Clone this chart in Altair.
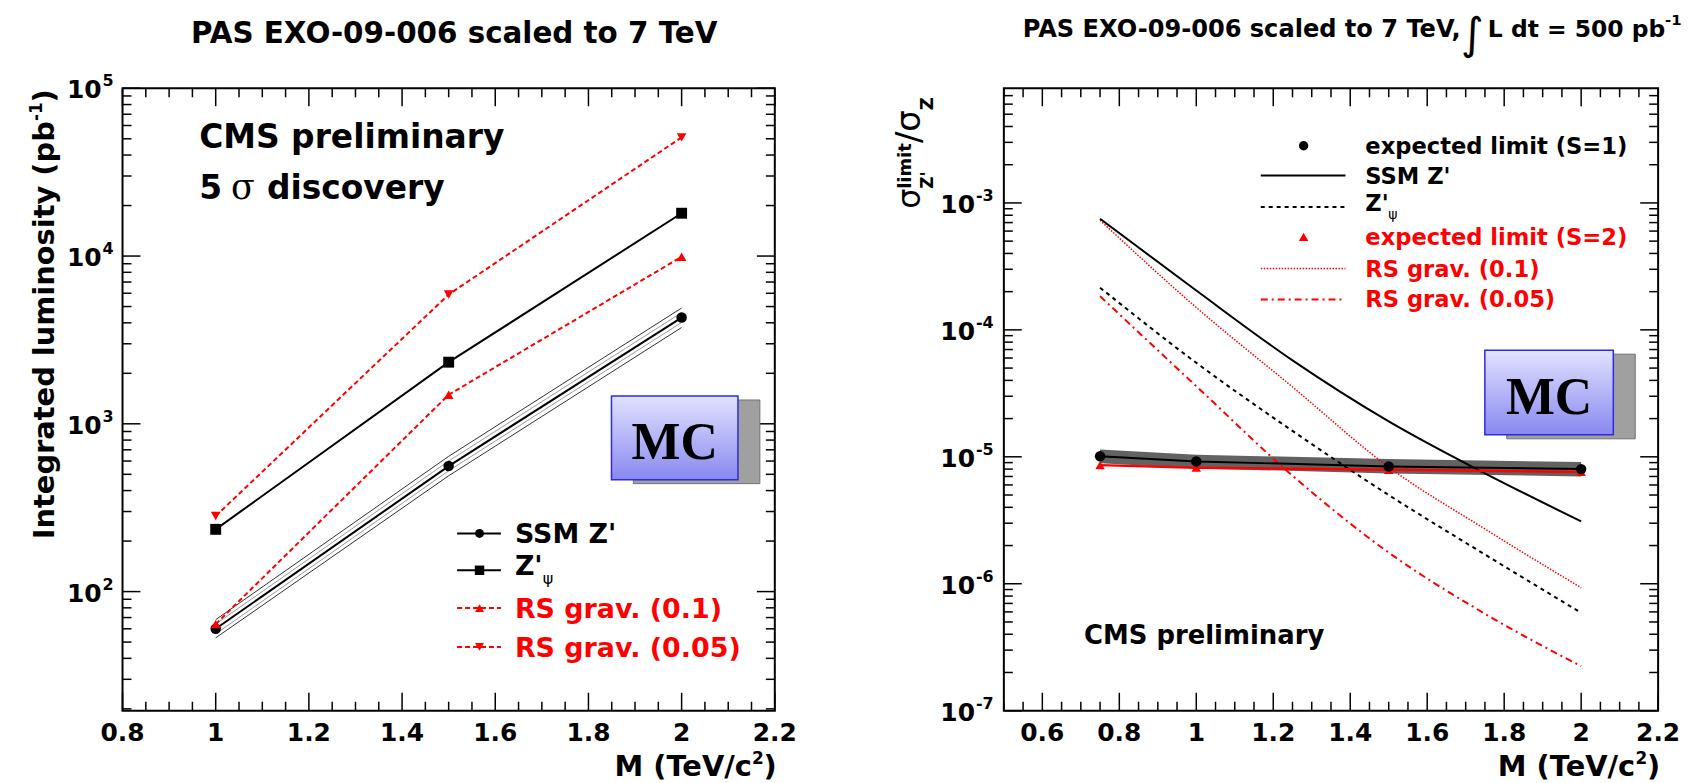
import altair as alt
import pandas as pd

FONT = "DejaVu Sans"
SERIF = "Liberation Serif"
RED = "#ff0000"

# ---------------- left panel: 5 sigma discovery luminosity ----------------
lum_mass = [1.0, 1.5, 2.0]
lum_ssm = [60, 560, 4300]
lum_ssm_hi = [68, 640, 4900]
lum_ssm_lo = [53, 490, 3750]
lum_ssm_hi2 = [64, 600, 4600]
lum_ssm_lo2 = [56, 525, 4020]
lum_zpsi = [235, 2330, 18000]
lum_rs01 = [64, 1490, 9900]
lum_rs005 = [282, 5900, 51000]

# ---------------- right panel: cross-section ratio limits ----------------
lim_mass = [0.75, 1.0, 1.5, 2.0]
lim_s1 = [1.01e-5, 9.2e-6, 8.4e-6, 8.0e-6]
lim_s1_hi = [1.14e-5, 1.04e-5, 9.6e-6, 9.1e-6]
lim_s1_lo = [8.9e-6, 8.1e-6, 7.4e-6, 7.0e-6]
lim_s2 = [8.6e-6, 8.2e-6, 7.9e-6, 7.6e-6]
th_mass = [0.75, 1.0, 1.25, 1.5, 1.75, 2.0]
th_ssm = [7.5e-4, 2.04e-4, 5.75e-5, 1.9e-5, 7.4e-6, 3.1e-6]
th_zpsi = [2.15e-4, 5.5e-5, 1.6e-5, 5.0e-6, 1.7e-6, 5.9e-7]
th_rs01 = [7.3e-4, 1.5e-4, 3.55e-5, 8.3e-6, 2.7e-6, 9.3e-7]
th_rs005 = [1.84e-4, 3.6e-5, 7.1e-6, 1.76e-6, 5.8e-7, 2.24e-7]

# ---------------- ticks and labels ----------------
L_XMAJ = [0.8, 1.0, 1.2, 1.4, 1.6, 1.8, 2.0, 2.2]
L_XLAB = ["0.8", "1", "1.2", "1.4", "1.6", "1.8", "2", "2.2"]
L_YMAJ = [1e2, 1e3, 1e4, 1e5]
L_YEXP = ["2", "3", "4", "5"]
R_XMAJ = [0.6, 0.8, 1.0, 1.2, 1.4, 1.6, 1.8, 2.0, 2.2]
R_XLAB = ["0.6", "0.8", "1", "1.2", "1.4", "1.6", "1.8", "2", "2.2"]
R_YMAJ = [1e-7, 1e-6, 1e-5, 1e-4, 1e-3]
R_YEXP = ["-7", "-6", "-5", "-4", "-3"]


def minor_lin(lo, hi, step, majors):
    n = int(round((hi - lo) / step))
    vals = [round(lo + i * step, 4) for i in range(n + 1)]
    return [v for v in vals if all(abs(v - m) > 1e-6 for m in majors)]


def minor_log(lo, hi):
    out = []
    for e in range(-8, 6):
        for m in range(2, 10):
            v = m * 10.0 ** e
            if lo < v < hi * 0.999:
                out.append(v)
    return out


ONE = pd.DataFrame({"k": [0]})
H = 625
W1, W2 = 655, 657


def T(s, x, y, size, color="black", weight="bold", align="left",
      baseline="alphabetic", angle=None, font=FONT):
    kw = dict(text=s, font=font, fontSize=size, color=color, align=align,
              baseline=baseline, fontWeight=weight)
    if angle is not None:
        kw["angle"] = angle
    return alt.Chart(ONE).mark_text(**kw).encode(x=alt.value(x), y=alt.value(y))


def seg(x1, x2, y, color, width=2, dash=None):
    kw = dict(color=color, strokeWidth=width)
    if dash:
        kw["strokeDash"] = dash
    return alt.Chart(ONE).mark_rule(**kw).encode(
        x=alt.value(x1), x2=alt.value(x2), y=alt.value(y))


def mk(x, y, shape, color, size):
    return alt.Chart(ONE).mark_point(shape=shape, filled=True, size=size,
                                     color=color, opacity=1).encode(
        x=alt.value(x), y=alt.value(y))


def frame_layers(W, xs, ys, xmaj, xmin, ymaj, ymin, xlab, yexp, x10):
    out = []
    for vals, ln in ((xmaj, 18), (xmin, 9)):
        d = pd.DataFrame({"v": vals})
        for y0, y1 in ((H, H - ln), (0, ln)):
            out.append(alt.Chart(d).mark_rule(color="black", strokeWidth=1.5).encode(
                x=alt.X("v:Q", scale=xs, axis=None),
                y=alt.value(y0), y2=alt.value(y1)))
    for vals, ln in ((ymaj, 18), (ymin, 9)):
        d = pd.DataFrame({"v": vals})
        for x0, x1 in ((0, ln), (W, W - ln)):
            out.append(alt.Chart(d).mark_rule(color="black", strokeWidth=1.5).encode(
                y=alt.Y("v:Q", scale=ys, axis=None),
                x=alt.value(x0), x2=alt.value(x1)))
    dl = pd.DataFrame({"v": xmaj, "lab": xlab})
    out.append(alt.Chart(dl).mark_text(font=FONT, fontSize=25, fontWeight="bold",
                                       align="center", baseline="alphabetic").encode(
        x=alt.X("v:Q", scale=xs, axis=None), y=alt.value(H + 30), text="lab:N"))
    dy = pd.DataFrame({"v": ymaj, "e": yexp})
    out.append(alt.Chart(dy).mark_text(text="10", font=FONT, fontSize=25, fontWeight="bold",
                                       align="right", baseline="alphabetic", dy=10).encode(
        y=alt.Y("v:Q", scale=ys, axis=None), x=alt.value(x10)))
    out.append(alt.Chart(dy).mark_text(font=FONT, fontSize=16, fontWeight="bold",
                                       align="left", baseline="alphabetic", dy=-2).encode(
        y=alt.Y("v:Q", scale=ys, axis=None), x=alt.value(x10 + 1), text="e:N"))
    # x axis title  M (TeV/c^2)
    out.append(T(")", W + 2, H + 66, 29, align="right"))
    out.append(T("2", W - 11, H + 54, 17, align="right"))
    out.append(T("M (TeV/c", W - 23, H + 66, 29, align="right"))
    return out


def mc_box(x1, y1, w, h):
    grad = alt.LinearGradient(gradient="linear",
                              stops=[alt.GradientStop(color="#e2e2ff", offset=0),
                                     alt.GradientStop(color="#8888f0", offset=1)],
                              x1=0, x2=0, y1=0, y2=1)
    shadow = alt.Chart(ONE).mark_rect(fill="#a0a0a0", stroke="#70707a", strokeWidth=1).encode(
        x=alt.value(x1 + 22), x2=alt.value(x1 + 22 + w),
        y=alt.value(y1 + 4), y2=alt.value(y1 + 4 + h))
    box = alt.Chart(ONE).mark_rect(fill=grad, stroke="#2b2be0", strokeWidth=1.5).encode(
        x=alt.value(x1), x2=alt.value(x1 + w), y=alt.value(y1), y2=alt.value(y1 + h))
    txt = T("MC", x1 + w / 2, y1 + h - 21, 52, align="center", font=SERIF)
    return [shadow, box, txt]


# ======================= LEFT PANEL =======================
xsL = alt.Scale(domain=[0.8, 2.2], nice=False, zero=False)
ysL = alt.Scale(type="log", domain=[19.5, 1e5], nice=False)
lum_df = pd.DataFrame({"m": lum_mass, "ssm": lum_ssm, "hi": lum_ssm_hi, "lo": lum_ssm_lo,
                       "hi2": lum_ssm_hi2, "lo2": lum_ssm_lo2, "zpsi": lum_zpsi,
                       "rs01": lum_rs01, "rs005": lum_rs005})


def lineL(field, color, width=2, dash=None):
    kw = dict(color=color, strokeWidth=width)
    if dash:
        kw["strokeDash"] = dash
    return alt.Chart(lum_df).mark_line(**kw).encode(
        x=alt.X("m:Q", scale=xsL, axis=None), y=alt.Y(field + ":Q", scale=ysL, axis=None))


def ptsL(field, shape, color, size):
    return alt.Chart(lum_df).mark_point(shape=shape, filled=True, size=size, color=color,
                                        opacity=1).encode(
        x=alt.X("m:Q", scale=xsL, axis=None), y=alt.Y(field + ":Q", scale=ysL, axis=None))


left_layers = frame_layers(W1, xsL, ysL, L_XMAJ, minor_lin(0.8, 2.2, 0.05, L_XMAJ),
                           L_YMAJ, minor_log(19.5, 1e5), L_XLAB, L_YEXP, -21)
left_layers += [
    lineL("hi2", "#9a9a9a", 1), lineL("lo2", "#9a9a9a", 1),
    lineL("hi", "#303030", 1), lineL("lo", "#303030", 1),
    lineL("ssm", "black", 2), lineL("zpsi", "black", 2),
    lineL("rs01", RED, 2, [5, 3]), lineL("rs005", RED, 2, [5, 3]),
    ptsL("ssm", "circle", "black", 110), ptsL("zpsi", "square", "black", 120),
    ptsL("rs01", "triangle-up", RED, 95), ptsL("rs005", "triangle-down", RED, 95),
]
left_layers += mc_box(491, 309, 127, 84)
left_layers += [
    T("PAS EXO-09-006 scaled to 7 TeV", 333, -45, 29.5, align="center"),
    T("CMS preliminary", 77, 60, 33),
    T("5", 77, 111, 33),
    T("σ", 109, 111, 35, weight="normal", font="DejaVu Serif"),
    T("discovery", 145, 111, 33),
    # y axis title (rotated, top end at the frame top)
    T(")", -69, 1, 29, align="right", angle=270),
    T("-1", -81, 14, 17, align="right", angle=270),
    T("Integrated luminosity (pb", -69, 33, 29, align="right", angle=270),
]
# legend
legL = [(447, "SSM Z'", "black", None, "circle"),
        (484, None, "black", None, "square"),
        (522, "RS grav. (0.1)", RED, [5, 3], "triangle-up"),
        (561, "RS grav. (0.05)", RED, [5, 3], "triangle-down")]
for y, lab, col, dash, shp in legL:
    left_layers.append(seg(336, 380, y, col, 2, dash))
    left_layers.append(mk(358.5, y, shp, col, 80 if shp != "square" else 90))
    if lab:
        left_layers.append(T(lab, 394, y + 10, 27, color=col))
left_layers += [T("Z'", 394, 489, 27), T("ψ", 422, 498, 16, weight="normal")]

left = alt.layer(*left_layers).properties(width=W1, height=H)

# ======================= RIGHT PANEL =======================
xsR = alt.Scale(domain=[0.5, 2.2], nice=False, zero=False)
ysR = alt.Scale(type="log", domain=[1e-7, 8e-3], nice=False)
lim_df = pd.DataFrame({"m": lim_mass, "s1": lim_s1, "hi": lim_s1_hi, "lo": lim_s1_lo,
                       "s2": lim_s2})
th_df = pd.DataFrame({"m": th_mass, "ssm": th_ssm, "zpsi": th_zpsi, "rs01": th_rs01,
                      "rs005": th_rs005})


def lineR(df, field, color, width=2, dash=None, interp="linear"):
    kw = dict(color=color, strokeWidth=width, interpolate=interp)
    if dash:
        kw["strokeDash"] = dash
    return alt.Chart(df).mark_line(**kw).encode(
        x=alt.X("m:Q", scale=xsR, axis=None), y=alt.Y(field + ":Q", scale=ysR, axis=None))


right_layers = frame_layers(W2, xsR, ysR, R_XMAJ, minor_lin(0.5, 2.2, 0.05, R_XMAJ),
                            R_YMAJ, minor_log(1e-7, 8e-3), R_XLAB, R_YEXP, -29)
right_layers += [
    alt.Chart(lim_df).mark_area(color="#2e2e2e", opacity=0.75).encode(
        x=alt.X("m:Q", scale=xsR, axis=None), y=alt.Y("hi:Q", scale=ysR, axis=None),
        y2="lo:Q"),
    lineR(th_df, "rs005", RED, 2, [7, 4, 2, 4], "monotone"),
    lineR(th_df, "zpsi", "black", 2, [4, 4], "monotone"),
    lineR(th_df, "rs01", RED, 1.5, [1.5, 1.5], "monotone"),
    lineR(th_df, "ssm", "black", 2, None, "monotone"),
    lineR(lim_df, "s2", RED, 2.5),
    lineR(lim_df, "s1", "black", 2),
    alt.Chart(lim_df).mark_point(shape="triangle-up", filled=True, size=90, color=RED,
                                 opacity=1).encode(
        x=alt.X("m:Q", scale=xsR, axis=None), y=alt.Y("s2:Q", scale=ysR, axis=None)),
    alt.Chart(lim_df).mark_point(shape="circle", filled=True, size=110, color="black",
                                 opacity=1).encode(
        x=alt.X("m:Q", scale=xsR, axis=None), y=alt.Y("s1:Q", scale=ysR, axis=None)),
]
right_layers += mc_box(483, 263, 129, 85)
right_layers += [
    T("PAS EXO-09-006 scaled to 7 TeV,", 19, -52, 24.2),
    T("∫", 459, -39, 44, weight="normal"),
    T("L dt = 500 pb", 486, -52, 23.5),
    T("-1", 664, -64, 15),
    T("CMS preliminary", 80.5, 557.7, 26),
    # y axis title  sigma^limit_Z' / sigma_Z
    T("σ", -84, 121, 32, weight="normal", angle=270),
    T("limit", -93, 101, 18, angle=270),
    T("Z'", -71, 101, 17, angle=270),
    T("/σ", -84, 55, 34, weight="normal", angle=270),
    T("Z", -71, 22, 18, angle=270),
]
legR = [(57.7, "expected limit (S=1)", "black", "pt", "circle"),
        (87.7, "SSM Z'", "black", None, None),
        (119.3, None, "black", [4, 4], None),
        (149.3, "expected limit (S=2)", RED, "pt", "triangle-up"),
        (181.0, "RS grav. (0.1)", RED, [1.5, 1.5], None),
        (212.0, "RS grav. (0.05)", RED, [7, 4, 2, 4], None)]
for y, lab, col, sty, shp in legR:
    if sty == "pt":
        right_layers.append(mk(301, y, shp, col, 90))
    else:
        right_layers.append(seg(258, 343, y, col, 1.5 if sty == [1.5, 1.5] else 2, sty))
    if lab:
        right_layers.append(T(lab, 363, y + 8, 22.7, color=col))
right_layers += [T("Z'", 363, 123, 22.7), T("ψ", 386, 131, 14, weight="normal")]

right = alt.layer(*right_layers).properties(width=W2, height=H)

chart = alt.hconcat(left, right, spacing=230, bounds="flush").properties(
    padding={"left": 19, "top": 2, "right": 5, "bottom": 0},
    background="white",
).configure_view(stroke="black", strokeWidth=2)

chart.save("out.html", embed_options={"renderer": "svg", "actions": False})
